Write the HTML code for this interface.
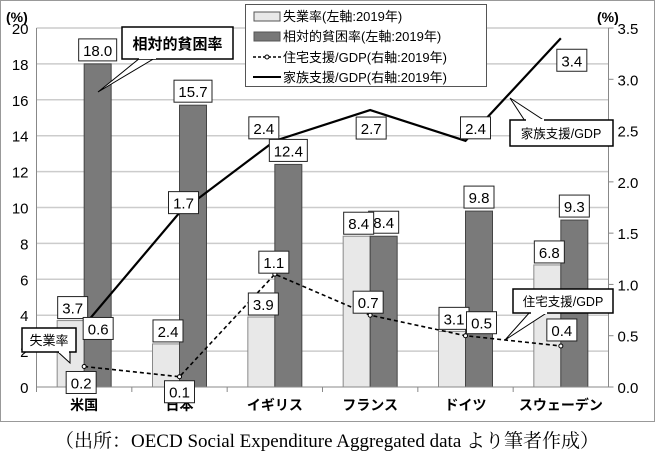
<!DOCTYPE html>
<html><head><meta charset="utf-8"><style>
body{margin:0;background:#fff;}
svg{display:block;font-family:"Liberation Sans","Noto Sans CJK JP",sans-serif;}
</style></head><body>
<svg width="655" height="455" viewBox="0 0 655 455">
<rect x="0.5" y="0.5" width="654" height="421" fill="#fff" stroke="#999"/>
<g id="grid"></g>
<g id="bars"></g>
<g id="lines"></g>
<g id="axes"></g>
<g id="labels"></g>
<text x="6" y="22" font-size="14" font-weight="bold">(%)</text>
<text x="597" y="22" font-size="14" font-weight="bold">(%)</text>
<g>
<rect x="245.5" y="4.5" width="241" height="82" fill="#fff" stroke="#555"/>
<rect x="254" y="12" width="26" height="9" fill="#e8e8e8" stroke="#555"/>
<text x="283" y="21" font-size="13">失業率(左軸:2019年)</text>
<rect x="254" y="32" width="26" height="9" fill="#777" stroke="#555"/>
<text x="283" y="41" font-size="13">相対的貧困率(左軸:2019年)</text>
<line x1="253" y1="57" x2="281" y2="57" stroke="#000" stroke-width="1.5" stroke-dasharray="3,2"/>
<circle cx="267" cy="57" r="2" fill="#fff" stroke="#000"/>
<text x="283" y="62" font-size="13">住宅支援/GDP(右軸:2019年)</text>
<line x1="253" y1="77" x2="281" y2="77" stroke="#000" stroke-width="2"/>
<text x="283" y="82" font-size="13">家族支援/GDP(右軸:2019年)</text>
</g>
<g id="callouts">
<g>
<polygon points="140,58 98,92 155,58" fill="#fff" stroke="#000"/>
<rect x="122" y="27" width="111" height="32" fill="#fff" stroke="#000" stroke-width="1.5"/>
<line x1="139" y1="58" x2="156" y2="58" stroke="#fff" stroke-width="2"/>
<text x="177.5" y="49" font-size="15" font-weight="bold" text-anchor="middle">相対的貧困率</text>
</g>
<g>
<polygon points="525,121 510,98 545,121" fill="#fff" stroke="#000"/>
<rect x="510" y="120" width="103" height="26" fill="#fff" stroke="#000" stroke-width="1.5"/>
<line x1="526" y1="120" x2="544" y2="120" stroke="#fff" stroke-width="2"/>
<text x="561" y="138" font-size="12.5" text-anchor="middle">家族支援/GDP</text>
</g>
<g>
<polygon points="530,312 505,340 548,312" fill="#fff" stroke="#000"/>
<rect x="513" y="289" width="100" height="24" fill="#fff" stroke="#000" stroke-width="1.5"/>
<line x1="531" y1="313" x2="547" y2="313" stroke="#fff" stroke-width="2"/>
<text x="563" y="306" font-size="12.5" text-anchor="middle">住宅支援/GDP</text>
</g>
<g>
<polygon points="58,352 70,363 70,352" fill="#fff" stroke="#000"/>
<rect x="22" y="328" width="54" height="24" fill="#fff" stroke="#000" stroke-width="1.5"/>
<line x1="59" y1="352" x2="69" y2="352" stroke="#fff" stroke-width="2"/>
<text x="49" y="345" font-size="13" text-anchor="middle">失業率</text>
</g>
</g>
<text x="327" y="447" font-size="19" text-anchor="middle" font-family="Liberation Serif,Noto Serif CJK SC,serif">（出所：OECD Social Expenditure Aggregated data より筆者作成）</text>
<script>
const categories=["米国","日本","イギリス","フランス","ドイツ","スウェーデン"];
const unemployment=[3.7,2.4,3.9,8.4,3.1,6.8];
const poverty=[18.0,15.7,12.4,8.4,9.8,9.3];
const housing=[0.2,0.1,1.1,0.7,0.5,0.4];
const family=[0.6,1.7,2.4,2.7,2.4,3.4];
const leftTicks=[0,2,4,6,8,10,12,14,16,18,20];
const rightTicks=["0.0","0.5","1.0","1.5","2.0","2.5","3.0","3.5"];
const NS="http://www.w3.org/2000/svg";
const L=36.5,R=608.5,T=28,B=387;
const yL=v=>B-(v/20)*(B-T);
const yR=v=>B-(v/3.5)*(B-T);
const gw=(R-L)/categories.length;
const cx=i=>L+gw*(i+0.5);
function mk(p,tag,at){const e=document.createElementNS(NS,tag);for(const k in at)e.setAttribute(k,at[k]);p.appendChild(e);return e;}
const grid=document.getElementById('grid'),bars=document.getElementById('bars'),lines=document.getElementById('lines'),axes=document.getElementById('axes'),labels=document.getElementById('labels');
leftTicks.forEach(t=>{
 if(t>0){const g=mk(grid,'line',{x1:L,x2:R,y1:yL(t),y2:yL(t),stroke:'#ccc','stroke-width':1.5});
 
 }
 const tx=mk(axes,'text',{x:L-8,y:yL(t)+6,'font-size':15,'text-anchor':'end'});tx.textContent=t;
 
 
});
rightTicks.forEach(t=>{
 const y=yR(+t);
 mk(axes,'line',{x1:R,x2:R+5,y1:y,y2:y,stroke:'#888'});
 const tx=mk(axes,'text',{x:R+9,y:y+6,'font-size':15});tx.textContent=t;
 
 
});
mk(axes,'line',{x1:L,x2:L,y1:T,y2:B,stroke:'#888'});
mk(axes,'line',{x1:R,x2:R,y1:T,y2:B,stroke:'#888'});
mk(axes,'line',{x1:L,x2:R,y1:B,y2:B,stroke:'#888'});
const bw=27;
categories.forEach((c,i)=>{
 const x=cx(i);
 const b1=mk(bars,'rect',{x:x-bw,y:yL(unemployment[i]),width:bw,height:B-yL(unemployment[i]),fill:'#e8e8e8',stroke:'#888'});
 
 
 const b2=mk(bars,'rect',{x:x,y:yL(poverty[i]),width:bw,height:B-yL(poverty[i]),fill:'#7a7a7a',stroke:'#444'});
 
 
 mk(axes,'line',{x1:L+gw*i,x2:L+gw*i,y1:B,y2:B+5,stroke:'#888'});
 const tx=mk(axes,'text',{x:x,y:B+23,'font-size':14,'font-weight':'bold','text-anchor':'middle'});tx.textContent=c;
 
 
});
const hp=mk(lines,'polyline',{points:housing.map((v,i)=>cx(i)+','+yR(v)).join(' '),fill:'none',stroke:'#000','stroke-width':1.6,'stroke-dasharray':'4,3'});


housing.forEach((v,i)=>{const c=mk(lines,'circle',{cx:cx(i),cy:yR(v),r:2,fill:'#fff',stroke:'#000'});
 
 });
const fp=mk(lines,'polyline',{points:family.map((v,i)=>cx(i)+','+yR(v)).join(' '),fill:'none',stroke:'#000','stroke-width':2.2});


function lab(x,y,t,name){
 const w=t.length*8+6;
 mk(labels,'rect',{x:x-w/2,y:y-11,width:w,height:22,fill:'#fff',stroke:'#222'});
 const tx=mk(labels,'text',{x:x,y:y+6,'font-size':15,'text-anchor':'middle'});tx.textContent=t;
 
 
}
const f1=v=>v.toFixed(1);
categories.forEach((c,i)=>{
 const x=cx(i);
 lab(x+bw/2,yL(poverty[i])-14,f1(poverty[i]),'value-label-poverty');
 lab(x-bw/2+2,yL(unemployment[i])-13,f1(unemployment[i]),'value-label-unemployment');
});
const famOff=[[14,3],[4,-10],[-11,-13],[1,18],[10,-13],[11,22]];
family.forEach((v,i)=>lab(cx(i)+famOff[i][0],yR(v)+famOff[i][1],f1(v),'value-label-family'));
const houOff=[[-3,16],[0,15],[-1,-12],[-2,-13],[16,-13],[1,-16]];
housing.forEach((v,i)=>lab(cx(i)+houOff[i][0],yR(v)+houOff[i][1],f1(v),'value-label-housing'));
document.querySelector('svg').appendChild(document.getElementById('callouts'));
</script>
</svg>
</body></html>
